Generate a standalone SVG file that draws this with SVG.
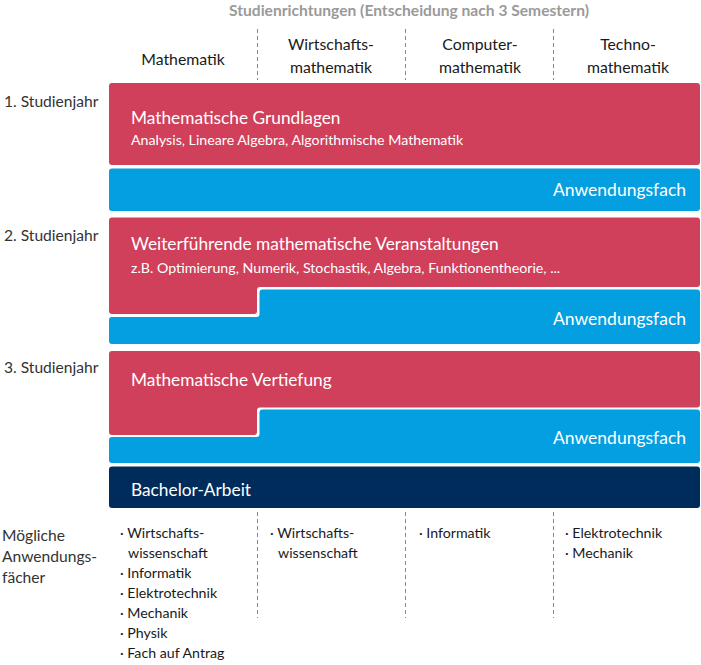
<svg xmlns="http://www.w3.org/2000/svg" width="701" height="665" viewBox="0 0 701 665">
<style>
text{font-family:Lato,"Noto Sans",sans-serif;}
.title{font-size:15.6px;font-weight:bold;fill:#9a9a9a;text-anchor:middle;}
.col{font-size:15.8px;fill:#1a1a1a;text-anchor:middle;}
.row{font-size:15.6px;fill:#333;}
.h{font-size:17.3px;fill:#fff;}
.s{font-size:14.2px;fill:#fff;}
.af{font-size:17.5px;fill:#fff;text-anchor:end;}
.li{font-size:14.2px;fill:#1a1a1a;}
.red{fill:#d0405a;}
.blue{fill:#049fe0;}
.navy{fill:#002c5c;}
.dash{stroke:#888;stroke-width:1;stroke-dasharray:4 3;fill:none;}
</style>
<text class="title" x="409" y="16">Studienrichtungen (Entscheidung nach 3 Semestern)</text>
<g id="columns">
<text class="col" x="183" y="65">Mathematik</text>
<text class="col" x="331" y="50">Wirtschafts-</text>
<text class="col" x="331" y="73">mathematik</text>
<text class="col" x="480" y="50">Computer-</text>
<text class="col" x="480" y="73">mathematik</text>
<text class="col" x="628" y="50">Techno-</text>
<text class="col" x="628" y="73">mathematik</text>
</g>
<g id="dividers">
<line class="dash" x1="257.5" y1="29" x2="257.5" y2="80"/>
<line class="dash" x1="405.5" y1="29" x2="405.5" y2="80"/>
<line class="dash" x1="553.5" y1="29" x2="553.5" y2="80"/>
<line class="dash" x1="257.5" y1="512" x2="257.5" y2="618"/>
<line class="dash" x1="405.5" y1="512" x2="405.5" y2="618"/>
<line class="dash" x1="553.5" y1="512" x2="553.5" y2="618"/>
</g>
<g id="rows">
<text class="row" x="4" y="107">1. Studienjahr</text>
<text class="row" x="4" y="241">2. Studienjahr</text>
<text class="row" x="4" y="373">3. Studienjahr</text>
</g>
<g id="grundlagen">
<rect class="red" x="109" y="83" width="591" height="82" rx="3"/>
<text class="h" x="131" y="124">Mathematische Grundlagen</text>
<text class="s" x="131" y="145">Analysis, Lineare Algebra, Algorithmische Mathematik</text>
</g>
<g id="anwendung1">
<rect class="blue" x="109" y="168.5" width="591" height="42.5" rx="3"/>
<text class="af" x="686" y="196">Anwendungsfach</text>
</g>
<g id="weiterfuehrend">
<path class="red" d="M112,217.5 H697 Q700,217.5 700,220.5 V284 Q700,287 697,287 H260 Q257,287 257,290 V311 Q257,314 254,314 H112 Q109,314 109,311 V220.5 Q109,217.5 112,217.5 Z"/>
<text class="h" x="131" y="250">Weiterführende mathematische Veranstaltungen</text>
<text class="s" x="131" y="273">z.B. Optimierung, Numerik, Stochastik, Algebra, Funktionentheorie, ...</text>
</g>
<g id="anwendung2">
<path class="blue" d="M262.5,289.5 H697 Q700,289.5 700,292.5 V341 Q700,344 697,344 H112 Q109,344 109,341 V320 Q109,317 112,317 H256.5 Q259.5,317 259.5,314 V292.5 Q259.5,289.5 262.5,289.5 Z"/>
<text class="af" x="686" y="325">Anwendungsfach</text>
</g>
<g id="vertiefung">
<path class="red" d="M112,351 H697 Q700,351 700,354 V404.5 Q700,407.5 697,407.5 H260 Q257,407.5 257,410.5 V432 Q257,435 254,435 H112 Q109,435 109,432 V354 Q109,351 112,351 Z"/>
<text class="h" x="131" y="386">Mathematische Vertiefung</text>
</g>
<g id="anwendung3">
<path class="blue" d="M262.5,409.5 H697 Q700,409.5 700,412.5 V460 Q700,463 697,463 H112 Q109,463 109,460 V440 Q109,437 112,437 H256.5 Q259.5,437 259.5,434 V412.5 Q259.5,409.5 262.5,409.5 Z"/>
<text class="af" x="686" y="444">Anwendungsfach</text>
</g>
<g id="bachelor">
<rect class="navy" x="109" y="466.5" width="591" height="41.5" rx="3"/>
<text class="h" x="131" y="496">Bachelor-Arbeit</text>
</g>
<g id="moegliche">
<text class="row" x="2" y="541">Mögliche</text>
<text class="row" x="2" y="562">Anwendungs-</text>
<text class="row" x="2" y="583">fächer</text>
</g>
<g id="list1">
<text class="li" x="120" y="538">· Wirtschafts-</text>
<text class="li" x="128" y="558">wissenschaft</text>
<text class="li" x="120" y="578">· Informatik</text>
<text class="li" x="120" y="598">· Elektrotechnik</text>
<text class="li" x="120" y="618">· Mechanik</text>
<text class="li" x="120" y="638">· Physik</text>
<text class="li" x="120" y="658">· Fach auf Antrag</text>
</g>
<g id="list2">
<text class="li" x="270" y="538">· Wirtschafts-</text>
<text class="li" x="278" y="558">wissenschaft</text>
</g>
<g id="list3">
<text class="li" x="419" y="538">· Informatik</text>
</g>
<g id="list4">
<text class="li" x="565" y="538">· Elektrotechnik</text>
<text class="li" x="565" y="558">· Mechanik</text>
</g>
</svg>
